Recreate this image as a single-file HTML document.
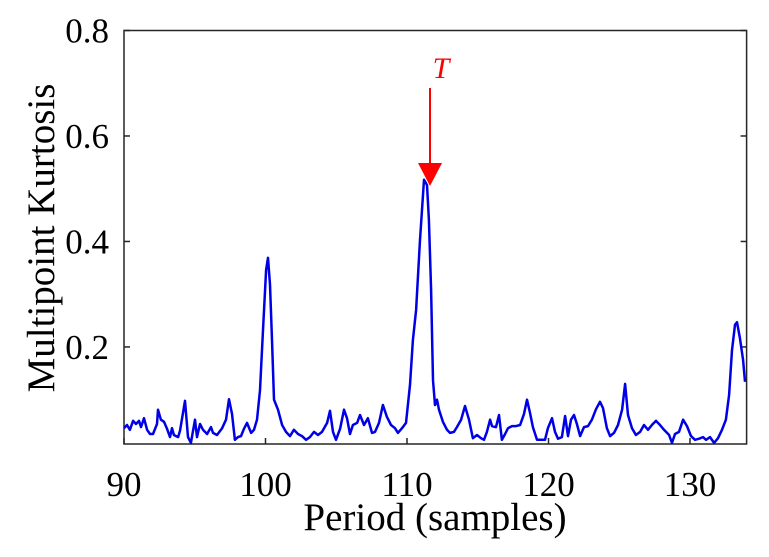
<!DOCTYPE html>
<html><head><meta charset="utf-8"><style>
body{margin:0;background:#fff}
svg text{font-family:"Liberation Serif",serif;fill:#000}
</style></head><body>
<svg id="chart" width="769" height="552">
<g id="ticks"></g>
<rect x="124" y="30.5" width="622.6" height="413.5" fill="none" stroke="#262626" stroke-width="1.5"/>
<path id="series" fill="none" stroke="#0000e6" stroke-width="2.5" stroke-linejoin="round"/>
<line x1="430" y1="88" x2="430" y2="166" stroke="#ff0000" stroke-width="2"/>
<polygon points="418,163 442,163 430,186" fill="#ff0000"/>
<text x="441" y="78" font-size="30" font-style="italic" style="fill:#ff0000" text-anchor="middle">T</text>
<text x="435" y="530" font-size="39" text-anchor="middle">Period (samples)</text>
<text x="0" y="0" font-size="39" text-anchor="middle" transform="translate(54,238) rotate(-90)">Multipoint Kurtosis</text>
</svg>
<script>
const periods=[90.00,90.21,90.42,90.64,90.85,91.06,91.20,91.41,91.63,91.84,92.05,92.33,92.40,92.61,92.83,93.04,93.25,93.39,93.53,93.82,93.96,94.31,94.52,94.73,95.02,95.16,95.37,95.58,95.87,96.15,96.29,96.57,96.93,97.21,97.42,97.63,97.84,98.06,98.27,98.48,98.69,98.98,99.19,99.40,99.61,99.82,100.04,100.18,100.32,100.46,100.60,100.88,101.17,101.45,101.73,102.01,102.30,102.58,102.86,103.14,103.43,103.71,103.99,104.35,104.56,104.77,104.98,105.27,105.55,105.76,105.97,106.18,106.47,106.68,106.96,107.24,107.53,107.74,108.02,108.30,108.59,108.87,109.15,109.36,109.65,109.93,110.21,110.42,110.64,110.92,111.20,111.41,111.55,111.70,111.84,111.98,112.12,112.26,112.54,112.83,113.04,113.32,113.53,113.82,114.10,114.38,114.66,114.95,115.23,115.44,115.65,115.87,116.01,116.29,116.50,116.71,116.93,117.14,117.42,117.70,117.99,118.27,118.48,118.69,118.90,119.19,119.47,119.75,119.96,120.25,120.46,120.67,120.95,121.17,121.38,121.59,121.80,122.01,122.23,122.51,122.79,123.07,123.36,123.64,123.85,124.13,124.35,124.63,124.91,125.20,125.41,125.62,125.90,126.18,126.47,126.75,127.03,127.31,127.60,127.88,128.16,128.52,128.73,128.94,129.22,129.51,129.79,130.07,130.35,130.64,130.92,131.13,131.41,131.70,131.98,132.26,132.54,132.76,132.97,133.18,133.32,133.53,133.75,133.89];
const kurtosis=[0.046,0.052,0.043,0.060,0.054,0.060,0.048,0.065,0.043,0.035,0.035,0.054,0.081,0.062,0.058,0.045,0.029,0.046,0.033,0.029,0.041,0.098,0.029,0.018,0.062,0.029,0.054,0.043,0.035,0.048,0.037,0.033,0.046,0.062,0.101,0.073,0.024,0.029,0.031,0.045,0.056,0.037,0.043,0.062,0.118,0.232,0.346,0.369,0.318,0.213,0.100,0.081,0.052,0.039,0.031,0.043,0.035,0.031,0.024,0.029,0.039,0.033,0.039,0.056,0.079,0.039,0.024,0.045,0.081,0.065,0.035,0.052,0.056,0.071,0.052,0.065,0.037,0.039,0.056,0.090,0.067,0.052,0.046,0.037,0.046,0.056,0.128,0.213,0.270,0.403,0.517,0.507,0.441,0.308,0.137,0.090,0.100,0.081,0.058,0.043,0.037,0.039,0.048,0.062,0.088,0.062,0.027,0.033,0.027,0.024,0.039,0.062,0.050,0.048,0.071,0.024,0.035,0.046,0.050,0.050,0.052,0.073,0.100,0.075,0.048,0.024,0.024,0.024,0.046,0.065,0.039,0.026,0.029,0.069,0.031,0.062,0.071,0.054,0.031,0.048,0.050,0.062,0.082,0.096,0.084,0.046,0.031,0.037,0.052,0.081,0.130,0.071,0.046,0.033,0.039,0.052,0.043,0.052,0.060,0.052,0.043,0.033,0.018,0.035,0.039,0.062,0.050,0.031,0.024,0.026,0.029,0.024,0.029,0.018,0.027,0.043,0.062,0.109,0.194,0.242,0.247,0.217,0.175,0.134];
const xTicks=[90,100,110,120,130];
const yTicks=[0.2,0.4,0.6,0.8];
const xMin=90,xMax=134,yMin=0.016,yMax=0.8;
const L=124,R=746.6,T=30.5,B=444;
const sx=v=>L+(v-xMin)/(xMax-xMin)*(R-L);
const sy=v=>B-(v-yMin)/(yMax-yMin)*(B-T);
const NS="http://www.w3.org/2000/svg";
const g=document.getElementById('ticks');
xTicks.forEach(t=>{
  const l=document.createElementNS(NS,'line');
  l.setAttribute('x1',sx(t));l.setAttribute('x2',sx(t));l.setAttribute('y1',B);l.setAttribute('y2',B-6);
  l.setAttribute('stroke','#262626');l.setAttribute('stroke-width','1.5');
  
  
  g.appendChild(l);
  const tx=document.createElementNS(NS,'text');
  tx.setAttribute('x',sx(t));tx.setAttribute('y',496);tx.setAttribute('font-size','35');tx.setAttribute('text-anchor','middle');
  tx.textContent=t;
  
  
  g.appendChild(tx);
});
yTicks.forEach(t=>{
  const l=document.createElementNS(NS,'line');
  l.setAttribute('x1',L);l.setAttribute('x2',L+6);l.setAttribute('y1',sy(t));l.setAttribute('y2',sy(t));
  l.setAttribute('stroke','#262626');l.setAttribute('stroke-width','1.5');
  
  
  g.appendChild(l);
  const l2=document.createElementNS(NS,'line');
  l2.setAttribute('x1',R);l2.setAttribute('x2',R-6);l2.setAttribute('y1',sy(t));l2.setAttribute('y2',sy(t));
  l2.setAttribute('stroke','#262626');l2.setAttribute('stroke-width','1.5');
  
  
  g.appendChild(l2);
  const tx=document.createElementNS(NS,'text');
  tx.setAttribute('x',109);tx.setAttribute('y',sy(t)+12);tx.setAttribute('font-size','35');tx.setAttribute('text-anchor','end');
  tx.textContent=t.toFixed(1);
  
  
  g.appendChild(tx);
});
const d=periods.map((p,i)=>(i?'L':'M')+sx(p).toFixed(1)+','+sy(Math.max(kurtosis[i],yMin)).toFixed(1)).join(' ');
document.getElementById('series').setAttribute('d',d);
</script>
</body></html>
